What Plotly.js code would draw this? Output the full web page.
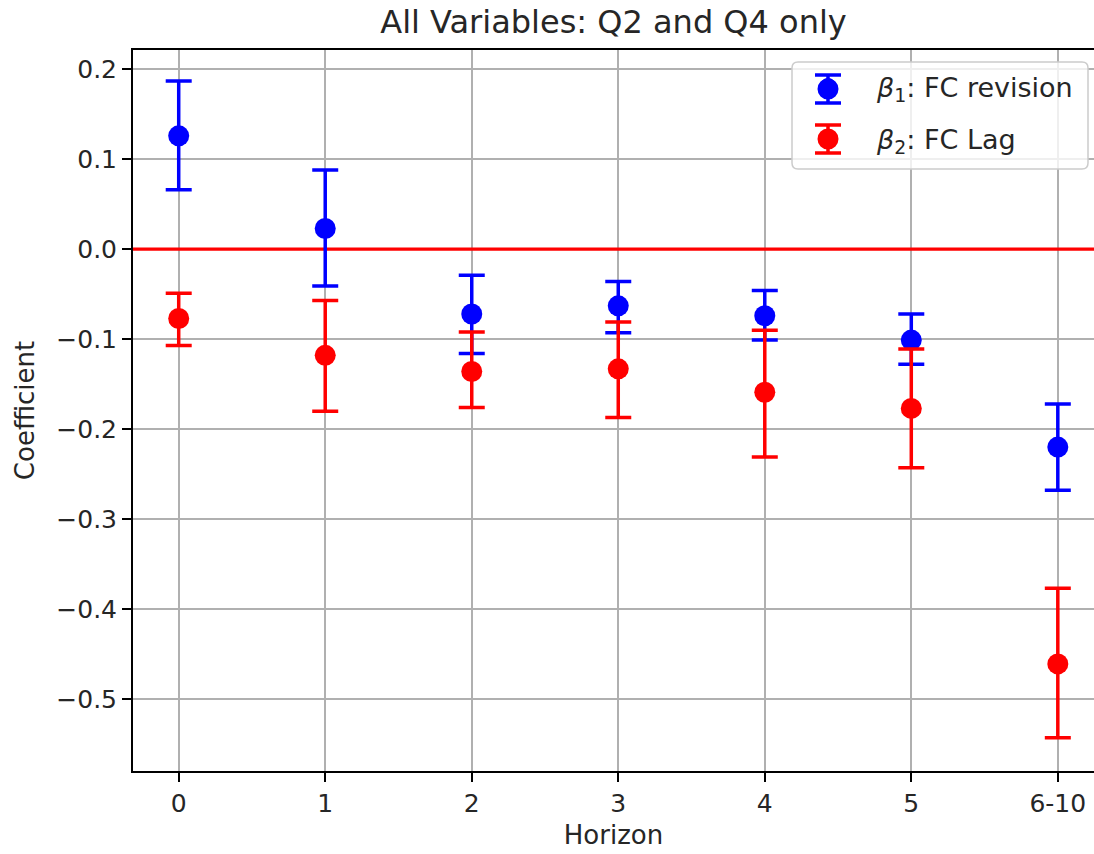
<!DOCTYPE html>
<html>
<head>
<meta charset="utf-8">
<script src="https://cdn.plot.ly/plotly-3.0.1.min.js"></script>
<style>html,body{margin:0;padding:0;background:#fff;}#chart{width:1094px;height:854px;}</style>
</head>
<body>
<div id="chart"></div>
<script>
// Data
const horizons = ["0", "1", "2", "3", "4", "5", "6-10"];
const beta1 = [0.126, 0.023, -0.072, -0.063, -0.074, -0.101, -0.220];
const beta1Upper = [0.187, 0.088, -0.029, -0.036, -0.046, -0.072, -0.172];
const beta1Lower = [0.066, -0.041, -0.116, -0.093, -0.101, -0.128, -0.268];
const beta2 = [-0.077, -0.118, -0.136, -0.133, -0.159, -0.177, -0.461];
const beta2Upper = [-0.049, -0.057, -0.092, -0.081, -0.090, -0.111, -0.377];
const beta2Lower = [-0.107, -0.180, -0.176, -0.187, -0.231, -0.243, -0.543];
const yTicks = [0.2, 0.1, 0.0, -0.1, -0.2, -0.3, -0.4, -0.5];
const referenceLevel = 0.0;

const xPos = horizons.map((_, i) => i);
const xRange = [-0.312, 6.247];
const FONT = "DejaVu Sans, sans-serif";
const BLUE = "#0000ff", RED = "#ff0000";

// plot-area geometry (pixels) for placing the legend decoration
const W = 1094, H = 854, ML = 133, MR = 0, MT = 50, MB = 83;
const PW = W - ML - MR, PH = H - MT - MB;
const px = v => (v - ML) / PW;
const py = v => (H - MB - v) / PH;

function series(name, group, y, hi, lo, color) {
  return {
    type: "scatter", mode: "markers", name: name, legendgroup: group,
    x: xPos, y: y,
    marker: {color: color, size: 21},
    error_y: {
      type: "data", symmetric: false,
      array: hi.map((v, i) => v - y[i]),
      arrayminus: lo.map((v, i) => y[i] - v),
      color: color, thickness: 3.5, width: 13, visible: true
    }
  };
}

const traces = [
  {type: "scatter", mode: "lines", x: xRange, y: [referenceLevel, referenceLevel],
   line: {color: RED, width: 3.2}, showlegend: false, hoverinfo: "skip"},
  series("<i>β</i><sub>1</sub>: FC revision", "a", beta1, beta1Upper, beta1Lower, BLUE),
  series("<i>β</i><sub>2</sub>: FC Lag", "b", beta2, beta2Upper, beta2Lower, RED)
];

// legend frame (rounded) and error-bar icons
const bx0 = 792, bx1 = 1088, by0 = 62, by1 = 169, r = 6;
const rx = r / PW, ry = r / PH;
const X0 = px(bx0), X1 = px(bx1), Y0 = py(by0), Y1 = py(by1);
const framePath = `M ${X0 + rx} ${Y0} L ${X1 - rx} ${Y0} Q ${X1} ${Y0} ${X1} ${Y0 - ry} ` +
  `L ${X1} ${Y1 + ry} Q ${X1} ${Y1} ${X1 - rx} ${Y1} L ${X0 + rx} ${Y1} Q ${X0} ${Y1} ${X0} ${Y1 + ry} ` +
  `L ${X0} ${Y0 - ry} Q ${X0} ${Y0} ${X0 + rx} ${Y0} Z`;

const itemW = 88;
const legendX = 779;                    // left edge of plotly legend box (px)
const iconX = legendX + itemW / 2 + 5;  // symbol centre (~828)
const iconRows = [[89, BLUE], [139, RED]];
const shapes = [{
  type: "path", xref: "paper", yref: "paper", path: framePath,
  fillcolor: "rgba(255,255,255,0.8)", line: {color: "#cccccc", width: 1.5}, layer: "above"
}];
iconRows.forEach(([cy, c]) => {
  const ln = {color: c, width: 3.5};
  shapes.push({type: "line", xref: "paper", yref: "paper", x0: px(iconX), x1: px(iconX),
               y0: py(cy - 14), y1: py(cy + 14), line: ln, layer: "above"});
  shapes.push({type: "line", xref: "paper", yref: "paper", x0: px(iconX - 13), x1: px(iconX + 13),
               y0: py(cy - 14), y1: py(cy - 14), line: ln, layer: "above"});
  shapes.push({type: "line", xref: "paper", yref: "paper", x0: px(iconX - 13), x1: px(iconX + 13),
               y0: py(cy + 14), y1: py(cy + 14), line: ln, layer: "above"});
  shapes.push({type: "circle", xref: "paper", yref: "paper", x0: px(iconX - 10.5), x1: px(iconX + 10.5),
               y0: py(cy - 10.5), y1: py(cy + 10.5), fillcolor: c, line: {width: 0}, layer: "above"});
});

const layout = {
  width: W, height: H,
  paper_bgcolor: "#ffffff", plot_bgcolor: "#ffffff",
  margin: {l: ML, r: MR, t: MT, b: MB, pad: 0},
  font: {family: FONT, size: 25, color: "#262626"},
  title: {text: "All Variables: Q2 and Q4 only", font: {family: FONT, size: 32, color: "#262626"},
          x: 0.5, xref: "paper", y: 1 - 22/854, yref: "container", yanchor: "middle"},
  xaxis: {
    range: xRange, tickmode: "array", tickvals: xPos, ticktext: horizons,
    showgrid: true, gridcolor: "#b0b0b0", gridwidth: 2,
    showline: true, mirror: true, linecolor: "#000000", linewidth: 2,
    ticks: "outside", ticklen: 9, tickwidth: 2, tickcolor: "#000000",
    zeroline: false, tickfont: {size: 25, color: "#262626"},
    title: {text: "Horizon", font: {size: 26, color: "#262626"}, standoff: 9}
  },
  yaxis: {
    range: [-0.58, 0.2214], tickmode: "array", tickvals: yTicks,
    ticktext: yTicks.map(v => (v < 0 ? "\u2212" : "") + Math.abs(v).toFixed(1)),
    showgrid: true, gridcolor: "#b0b0b0", gridwidth: 2,
    showline: true, mirror: false, linecolor: "#000000", linewidth: 2,
    ticks: "outside", ticklen: 9, tickwidth: 2, tickcolor: "#000000",
    zeroline: false, tickfont: {size: 25, color: "#262626"},
    title: {text: "Coefficient", font: {size: 26, color: "#262626"}, standoff: 14}
  },
  shapes: shapes,
  legend: {
    x: px(legendX), xanchor: "left", y: py(62), yanchor: "top",
    bgcolor: "rgba(0,0,0,0)", borderwidth: 0,
    font: {size: 27, color: "#262626"},
    traceorder: "grouped", tracegroupgap: 14, itemwidth: itemW
  },
  showlegend: true
};

Plotly.newPlot("chart", traces, layout, {displayModeBar: false, staticPlot: true});
</script>
</body>
</html>
